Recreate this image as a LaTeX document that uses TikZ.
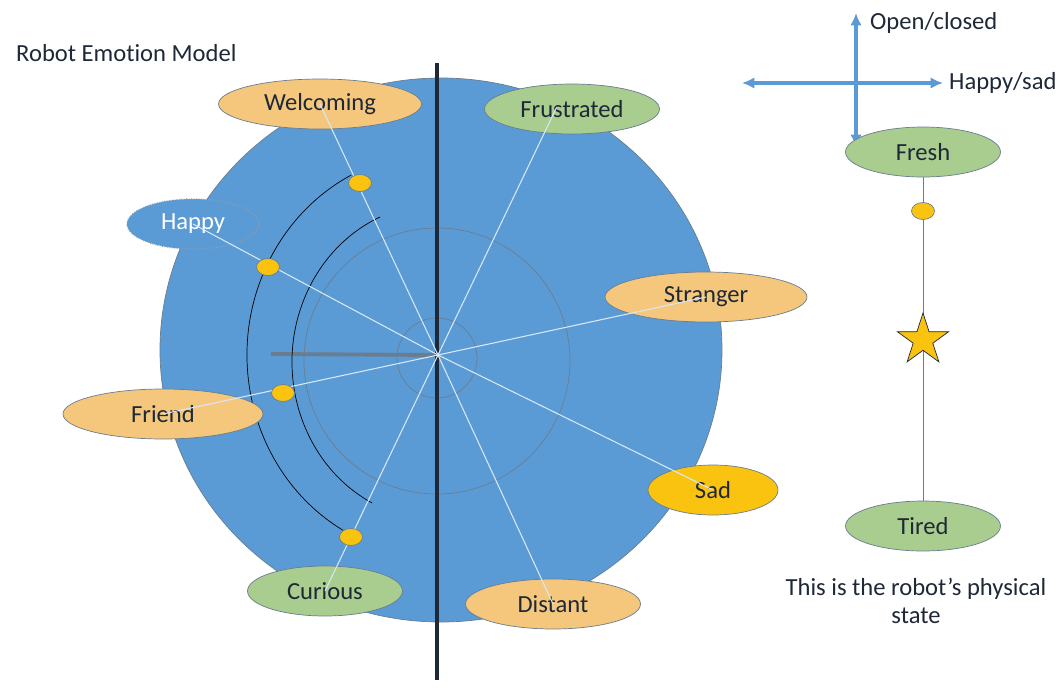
\documentclass[tikz,border=0pt]{standalone}
\usepackage{fontspec}
\setmainfont{Carlito}[Ligatures=NoCommon]
\usepackage{xcolor}
\usepackage{tikz}
\usetikzlibrary{arrows.meta,shapes.geometric,calc}
\definecolor{diskblue}{HTML}{5B9BD5}
\definecolor{edgegray}{HTML}{6A7D90}
\definecolor{peach}{HTML}{F4C77D}
\definecolor{sage}{HTML}{A9CC8F}
\definecolor{gold}{HTML}{F9C30F}
\definecolor{inkblue}{HTML}{1E2836}
\definecolor{spokewhite}{HTML}{D8E8F6}
\tikzset{
  notetext/.style={text=inkblue, font=\fontsize{14}{16}\selectfont},
  mood/.style={ellipse, draw=edgegray, thin, minimum height=1cm, inner sep=0pt, notetext},
  marker/.style={ellipse, draw=edgegray, thin, fill=gold, minimum width=0.46cm, minimum height=0.34cm, inner sep=0pt},
  spoke/.style={color=spokewhite, line width=0.6pt},
  axis/.style={color=diskblue, line width=1.9pt,
    {Latex[length=7pt,width=6.5pt]}-{Latex[length=7pt,width=6.5pt]}}
}

\begin{document}
\begin{tikzpicture}[x=0.02cm,y=-0.02cm]
      \useasboundingbox (0,0) rectangle (1063,694);
      \coordinate (hub) at (438,355);
      \node[notetext, anchor=west] (title) at (10,53) {Robot Emotion Model};
      % the big disk and its rings
      \fill[color=diskblue] (441,350) ellipse (281 and 272);
      \draw[color=edgegray,thin] (441,350) ellipse (281 and 272);
      \draw[color=edgegray,thin] (437,361) circle (133);
      \draw[color=edgegray,thin] (437,358) circle (40);
      \draw[color=edgegray,line width=2.2pt] (271,354) -- (hub);
      \draw[color=black,thin] (hub) ++(117:191 and 202)
      arc[start angle=117, end angle=243, x radius=191, y radius=202];
      \draw[color=black,thin] (438,362) ++(116.8:146 and 158)
      arc[start angle=116.8, end angle=246.6, x radius=146, y radius=158];
      \draw[color=inkblue,line width=2.2pt] (437,63) -- (437,680);
      % emotions
      \node[mood, fill=peach, minimum width=4.06cm] (welcoming) at (320,104) {Welcoming};
      \node[mood, fill=sage, minimum width=3.5cm] (frustrated) at (572,109) {Frustrated};
      \node[mood, fill=diskblue, draw=edgegray!75!white, densely dotted, line width=0.8pt,
      text=white, minimum width=2.64cm] (happy) at (193,224) {Happy};
      \node[mood, fill=peach, minimum width=4.04cm] (stranger) at (706,297) {Stranger};
      \node[mood, fill=peach, minimum width=4cm] (friend) at (163,414) {Friend};
      \node[mood, fill=gold, minimum width=2.6cm] (sad) at (713,490) {Sad};
      \node[mood, fill=sage, minimum width=3.1cm] (curious) at (325,591) {Curious};
      \node[mood, fill=peach, minimum width=3.5cm] (distant) at (553,604) {Distant};
      \draw[spoke] (hub) -- (welcoming.center);
      \draw[spoke] (hub) -- (distant.center);
      \draw[spoke] (hub) -- (happy.center);
      \draw[spoke] (hub) -- (sad.center);
      \draw[spoke] (hub) -- (friend.center);
      \draw[spoke] (hub) -- (stranger.center);
      \draw[spoke] (hub) -- (curious.center);
      \draw[spoke] (hub) -- ($(hub)!-1.05!(curious.center)$);
      \node[marker] (welcomedot) at (360,183) {};
      \node[marker] (happydot) at (268,267) {};
      \node[marker] (frienddot) at (283,393) {};
      \node[marker] (curiousdot) at (351,537) {};
      % the two axes
      \node[notetext, anchor=west] (openlabel) at (864,23) {Open/closed};
      \node[notetext, anchor=west] (happysad) at (943,83) {Happy/sad};
      \coordinate (opentop) at (856,13);
      \coordinate (openbottom) at (856,147);
      \coordinate (sadleft) at (742,83);
      \draw[axis] (openbottom) -- (opentop);
      \draw[axis] (sadleft) -- (happysad.west);
      % physical state
      \node[mood, fill=sage, minimum width=3.1cm] (fresh) at (923,152) {Fresh};
      \node[mood, fill=sage, minimum width=3.1cm] (tired) at (923,526) {Tired};
      \draw[color=edgegray,thin] (fresh) -- (tired);
      \node[marker] (freshdot) at (923,211) {};
      \node[star, star points=5, star point ratio=2.618, minimum size=1.08cm,
      inner sep=0pt, fill=gold, draw=inkblue, thin] (level) at (923,340) {};
      \node[notetext, align=center] (caption) at (916,601) {This is the robot’s physical\\state};
    \end{tikzpicture}
\end{document}
